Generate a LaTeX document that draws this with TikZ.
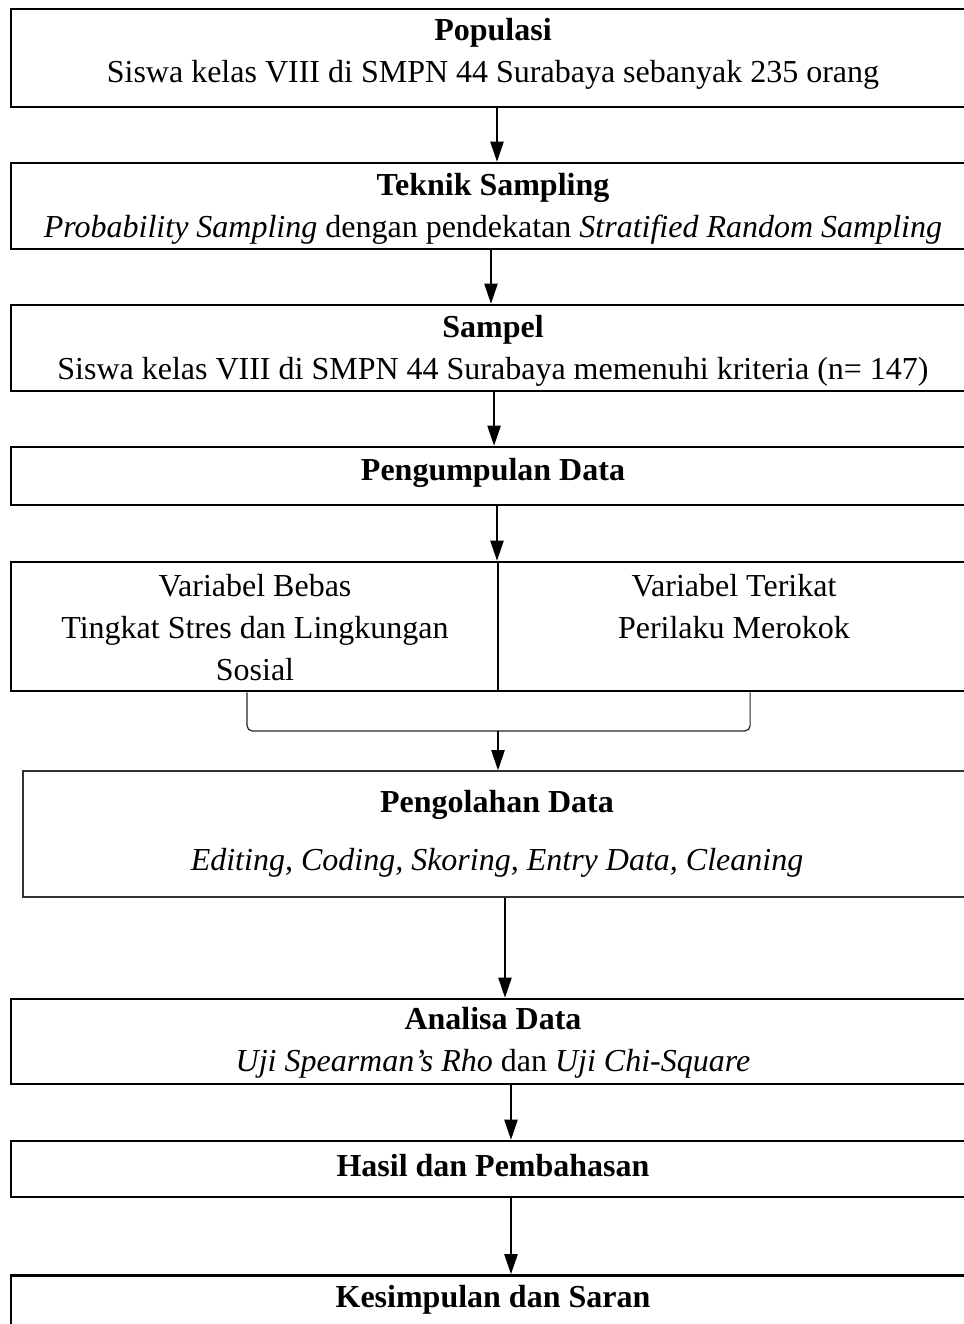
\documentclass[tikz,border=0pt]{standalone}
\usepackage{fontspec}
\setmainfont{Liberation Serif}
\usetikzlibrary{arrows.meta}

\begin{document}
\begin{tikzpicture}[
                x=0.375pt, y=-0.375pt,
                font=\fontsize{12pt}{15.75pt}\selectfont,
                box/.style={draw, line width=1pt, inner sep=0pt},
                txt/.style={align=center, inner sep=0pt},
                arr/.style={-{Triangle[width=5pt,length=7.5pt]}, line width=0.45pt}] %

                    \useasboundingbox (0,0) rectangle (964,1324);

                    % 1
                    \node[box, minimum width=361.5pt, minimum height=36.75pt] (Populasi) at (493,58) {};
                    \node[txt] (PopulasiT) at (493,54) {\textbf{Populasi}\\
                    Siswa kelas VIII di SMPN 44 Surabaya sebanyak 235 orang};

                    % 2
                    \node[box, minimum width=361.5pt, minimum height=32.25pt] (Teknik) at (493,206) {};
                    \node[txt] (TeknikT) at (493,209) {\textbf{Teknik Sampling}\\
                    \textit{Probability Sampling} dengan pendekatan \textit{Stratified Random Sampling}};

                    % 3
                    \node[box, minimum width=361.5pt, minimum height=32.25pt] (Sampel) at (493,348) {};
                    \node[txt] (SampelT) at (493,351) {\textbf{Sampel}\\
                    Siswa kelas VIII di SMPN 44 Surabaya memenuhi kriteria (n= 147)};

                    % 4
                    \node[box, minimum width=361.5pt, minimum height=21.75pt] (Kumpul) at (493,476) {};
                    \node[txt] (KumpulT) at (493,473) {\textbf{Pengumpulan Data}};

                    % 5
                    \node[box, minimum width=182.6pt, minimum height=48.4pt] (Bebas) at (254.5,626.5) {};
                    \node[box, minimum width=178.9pt, minimum height=48.4pt] (Terikat) at (736.5,626.5) {};
                    \node[txt] (BebasT) at (255,628) {Variabel Bebas\\ Tingkat Stres dan Lingkungan\\ Sosial};
                    \node[txt] (TerikatT) at (734,607) {Variabel Terikat\\ Perilaku Merokok};

                    % 6
                    \node[box, line width=0.6pt, draw=black!80, minimum width=355.5pt, minimum height=47.25pt] (Olah) at (497,834) {};
                    \node[txt] (OlahT) at (497,834) {\textbf{Pengolahan Data}\\[6pt]
                    \textit{Editing, Coding, Skoring, Entry Data, Cleaning}};

                    % 7
                    \node[box, minimum width=361.5pt, minimum height=31.9pt] (Analisa) at (493,1041.5) {};
                    \node[txt] (AnalisaT) at (493,1043) {\textbf{Analisa Data}\\
                    \textit{Uji Spearman’s Rho} dan \textit{Uji Chi-Square}};

                    % 8
                    \node[box, minimum width=361.5pt, minimum height=21pt] (Hasil) at (493,1169) {};
                    \node[txt] (HasilT) at (493,1166) {\textbf{Hasil dan Pembahasan}};

                    % 9
                    \node[box, minimum width=361.5pt, minimum height=25.9pt] (Simpul) at (493,1310) {};
                    \node[txt] (SimpulT) at (493,1300) {\textbf{Kesimpulan dan Saran}};


                    \draw[arr] ([xshift=1.5pt]Populasi.south) -- ([xshift=1.5pt]Teknik.north);
                    \draw[arr] ([xshift=-0.75pt]Teknik.south) -- ([xshift=-0.75pt]Sampel.north);
                    \draw[arr] ([xshift=0.4pt]Sampel.south) -- ([xshift=0.4pt]Kumpul.north);
                    \draw[arr] ([xshift=1.5pt]Kumpul.south) -- ([xshift=1.5pt]Kumpul.south |- Bebas.north);

                    % gabung
                    \coordinate (Gabung) at (498,731);
                    \draw[line width=0.45pt, draw=black!85, rounded corners=2pt] ([xshift=-2.8pt]Bebas.south) |- (Gabung) -| ([xshift=5.1pt]Terikat.south);
                    \draw[arr] (Gabung) -- (Gabung |- Olah.north);

                    \draw[arr] ([xshift=3pt]Olah.south) -- ([xshift=4.5pt]Analisa.north);
                    \draw[arr] ([xshift=6.75pt]Analisa.south) -- ([xshift=6.75pt]Hasil.north);
                    \draw[arr] ([xshift=6.75pt]Hasil.south) -- ([xshift=6.75pt]Simpul.north);

                    \end{tikzpicture}
\end{document}
